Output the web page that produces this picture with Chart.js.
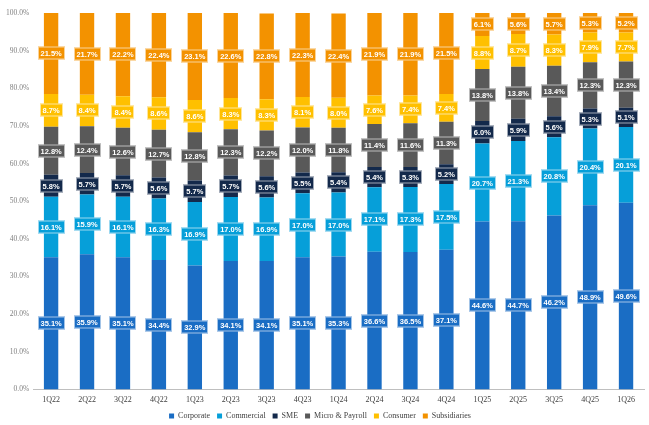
<!DOCTYPE html>
<html>
<head>
<meta charset="utf-8">
<script src="https://cdn.jsdelivr.net/npm/chart.js@4.4.1/dist/chart.umd.min.js"></script>
<style>
  html, body { margin: 0; padding: 0; background: #fff; }
  #wrap { width: 649px; height: 425px; }
</style>
</head>
<body>
<div id="wrap"><canvas id="mix"></canvas></div>
<script>
const quarters = ['1Q22', '2Q22', '3Q22', '4Q22', '1Q23', '2Q23', '3Q23', '4Q23', '1Q24', '2Q24', '3Q24', '4Q24', '1Q25', '2Q25', '3Q25', '4Q25', '1Q26'];
const corporate = [35.1, 35.9, 35.1, 34.4, 32.9, 34.1, 34.1, 35.1, 35.3, 36.6, 36.5, 37.1, 44.6, 44.7, 46.2, 48.9, 49.6];
const commercial = [16.1, 15.9, 16.1, 16.3, 16.9, 17.0, 16.9, 17.0, 17.0, 17.1, 17.3, 17.5, 20.7, 21.3, 20.8, 20.4, 20.1];
const sme = [5.8, 5.7, 5.7, 5.6, 5.7, 5.7, 5.6, 5.5, 5.4, 5.4, 5.3, 5.2, 6.0, 5.9, 5.6, 5.3, 5.1];
const microPayroll = [12.8, 12.4, 12.6, 12.7, 12.8, 12.3, 12.2, 12.0, 11.8, 11.4, 11.6, 11.3, 13.8, 13.8, 13.4, 12.3, 12.3];
const consumer = [8.7, 8.4, 8.4, 8.6, 8.6, 8.3, 8.3, 8.1, 8.0, 7.6, 7.4, 7.4, 8.8, 8.7, 8.3, 7.9, 7.7];
const subsidiaries = [21.5, 21.7, 22.2, 22.4, 23.1, 22.6, 22.8, 22.3, 22.4, 21.9, 21.9, 21.5, 6.1, 5.6, 5.7, 5.3, 5.2];

// etiquetas centradas en cada segmento, con caja del mismo color
const segmentLabels = {
    id: 'segmentLabels',
    afterDatasetsDraw(chart) {
        const ctx = chart.ctx;
        ctx.save();
        ctx.font = 'bold 7.5px "Liberation Sans", Arial, sans-serif';
        ctx.textAlign = 'center';
        ctx.textBaseline = 'middle';
        chart.data.datasets.forEach((ds, i) => {
            const meta = chart.getDatasetMeta(i);
            meta.data.forEach((bar, j) => {
                const txt = ds.data[j].toFixed(1) + '%';
                const y = Math.round((bar.y + bar.base) / 2);
                const w = Math.round(ctx.measureText(txt).width + 6);
                const h = 13;
                const x0 = Math.round(bar.x - w / 2);
                ctx.fillStyle = ds.backgroundColor;
                ctx.fillRect(x0, y - h / 2, w, h);
                ctx.strokeStyle = 'rgba(255,255,255,0.6)';
                ctx.lineWidth = 1;
                ctx.strokeRect(x0 + 0.5, y - h / 2 + 0.5, w - 1, h - 1);
                ctx.fillStyle = '#ffffff';
                ctx.fillText(txt, bar.x, y + 0.5);
            });
        });
        ctx.restore();
    }
};

const serif = '"Liberation Serif", "Times New Roman", serif';

new Chart(document.getElementById('mix').getContext('2d'), {
    type: 'bar',
    data: {
        labels: quarters,
        datasets: [
            { label: 'Corporate', data: corporate, backgroundColor: '#1a6dc4' },
            { label: 'Commercial', data: commercial, backgroundColor: '#069fd9' },
            { label: 'SME', data: sme, backgroundColor: '#13294b' },
            { label: 'Micro & Payroll', data: microPayroll, backgroundColor: '#595959' },
            { label: 'Consumer', data: consumer, backgroundColor: '#ffc000' },
            { label: 'Subsidiaries', data: subsidiaries, backgroundColor: '#f39200' }
        ]
    },
    options: {
        responsive: true,
        maintainAspectRatio: false,
        animation: false,
        layout: { padding: { left: 2, right: 5, top: 13, bottom: -5 } },
        datasets: { bar: { barPercentage: 0.4, categoryPercentage: 1.0 } },
        plugins: {
            tooltip: { enabled: false },
            legend: {
                position: 'bottom',
                labels: {
                    boxWidth: 5,
                    boxHeight: 5,
                    padding: 1,
                    color: '#404040',
                    font: { family: serif, size: 8 },
                    generateLabels: (chart) => Chart.defaults.plugins.legend.labels.generateLabels(chart).map((l) => {
                        l.text = l.text + '   ';
                        return l;
                    })
                }
            }
        },
        scales: {
            x: {
                stacked: true,
                grid: { display: false, drawTicks: false },
                border: { color: '#bfbfbf' },
                ticks: { color: '#404040', padding: 6, font: { family: serif, size: 8 }, maxRotation: 0 }
            },
            y: {
                stacked: true,
                min: 0,
                max: 100,
                grid: { display: false, drawTicks: false },
                border: { display: false },
                ticks: {
                    stepSize: 10,
                    padding: 4,
                    color: '#808080',
                    font: { family: serif, size: 7.5 },
                    callback: (v) => v.toFixed(1) + '%'
                }
            }
        }
    },
    plugins: [segmentLabels]
});
</script>
</body>
</html>
